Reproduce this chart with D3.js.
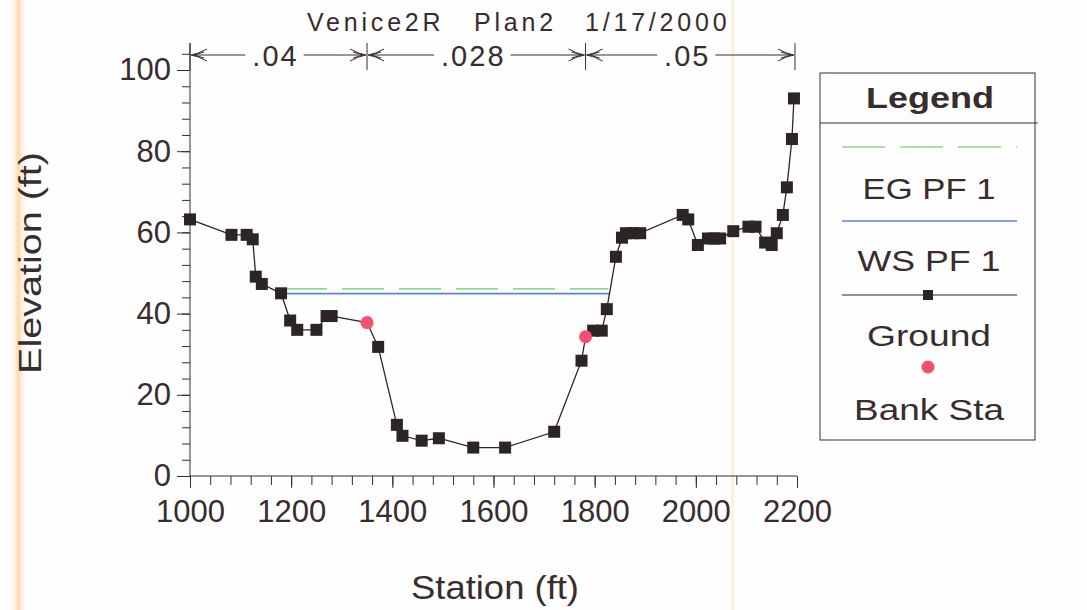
<!DOCTYPE html>
<html>
<head>
<meta charset="utf-8">
<script src="https://cdn.jsdelivr.net/npm/d3@7"></script>
<style>
  html, body { margin: 0; padding: 0; background: #fefefe; }
  svg { display: block; font-family: "Liberation Sans", Arial, sans-serif; }
</style>
</head>
<body>
<svg id="chart" width="1087" height="610"></svg>
<script>
// Cross-section: ground profile (station / elevation)
const groundStation = [1000, 1082, 1112, 1124, 1130, 1142, 1180, 1198, 1212, 1250, 1270, 1280,
  1372, 1409, 1420, 1458, 1492, 1560, 1623, 1720, 1774, 1797, 1814, 1824, 1842, 1854, 1862,
  1876, 1890, 1974, 1985, 2004, 2024, 2036, 2048, 2074, 2104, 2118, 2137, 2150, 2160, 2172,
  2180, 2190, 2194];
const groundElev = [63.2, 59.4, 59.4, 58.3, 49.1, 47.3, 45.0, 38.3, 36.0, 36.0, 39.4, 39.4,
  31.8, 12.6, 9.9, 8.7, 9.3, 7.0, 7.0, 10.9, 28.4, 35.8, 35.8, 41.1, 54.0, 58.7, 59.8,
  59.8, 59.8, 64.3, 63.2, 56.9, 58.5, 58.5, 58.5, 60.3, 61.4, 61.4, 57.5, 56.9, 59.8, 64.3,
  71.1, 83.0, 93.0];

// Bank stations (left / right)
const bankStation = [1350, 1782];
const bankElev = [37.8, 34.3];

// Water surface and energy grade for profile PF 1
const wsElev = 44.9;
const wsExtent = [1180, 1829];
const egElev = 46.1;
const egExtent = [1180, 1827];

// Manning's n regions
const nBounds = [1000, 1350, 1782, 2196];
const nValues = [".04", ".028", ".05"];

// Axes
const xTicks = [1000, 1200, 1400, 1600, 1800, 2000, 2200];
const yTicks = [0, 20, 40, 60, 80, 100];

const legendLabels = ["EG PF 1", "WS PF 1", "Ground", "Bank Sta"];

const ink = "#382c2c";
const colEG = "#8edb82";
const colWS = "#5a84e2";
const colGround = "#2d2424";
const colBank = "#f4506c";

const svg = d3.select("#chart");

// paper tint stripes
const grad = svg.append("defs").append("linearGradient").attr("id", "tint")
  .attr("x1", 0).attr("x2", 1).attr("y1", 0).attr("y2", 0);
grad.append("stop").attr("offset", 0).attr("stop-color", "#fdebd2").attr("stop-opacity", 0.2);
grad.append("stop").attr("offset", 0.5).attr("stop-color", "#fcd9ad").attr("stop-opacity", 1);
grad.append("stop").attr("offset", 1).attr("stop-color", "#fdebd2").attr("stop-opacity", 0.2);
svg.append("rect").attr("x", 12).attr("y", 0).attr("width", 13).attr("height", 610)
  .attr("fill", "url(#tint)");
svg.append("rect").attr("x", 731).attr("y", 0).attr("width", 3).attr("height", 610)
  .attr("fill", "#fdf3d6");

const x = d3.scaleLinear().domain([1000, 2200]).range([190, 797]);
const y = d3.scaleLinear().domain([0, 100]).range([476, 70]);

// Y axis
const yAxisG = svg.append("g").attr("transform", `translate(${x(1000)},0)`);
yAxisG.append("g")
  .call(d3.axisLeft(y).tickValues(d3.range(0, 105, 4)).tickSize(8).tickFormat(""))
  .call(g => g.select(".domain").remove());
yAxisG.append("g")
  .call(d3.axisLeft(y).tickValues(yTicks).tickSize(13).tickPadding(6).tickFormat(d3.format("d")))
  .call(g => g.select(".domain").remove());
yAxisG.selectAll("line").attr("stroke", ink).attr("stroke-width", 1);
yAxisG.selectAll("text").attr("fill", ink).attr("font-size", 31)
  .attr("font-family", "'Liberation Sans', Arial, sans-serif");
svg.append("line").attr("x1", x(1000)).attr("x2", x(1000))
  .attr("y1", 43).attr("y2", y(0)).attr("stroke", ink);

// X axis
const xAxisG = svg.append("g").attr("transform", `translate(0,${y(0)})`);
xAxisG.append("g")
  .call(d3.axisBottom(x).tickValues(d3.range(1000, 2201, 40)).tickSize(9).tickFormat(""))
  .call(g => g.select(".domain").remove());
xAxisG.append("g")
  .call(d3.axisBottom(x).tickValues(xTicks).tickSize(12).tickPadding(12).tickFormat(d3.format("d")))
  .call(g => g.select(".domain").remove());
xAxisG.selectAll("line").attr("stroke", ink).attr("stroke-width", 1);
xAxisG.selectAll("text").attr("fill", ink).attr("font-size", 31)
  .attr("font-family", "'Liberation Sans', Arial, sans-serif");
svg.append("line").attr("x1", x(1000)).attr("x2", x(2200))
  .attr("y1", y(0)).attr("y2", y(0)).attr("stroke", ink);

// Axis titles
svg.append("text").attr("x", 495).attr("y", 599).attr("text-anchor", "middle")
  .attr("font-size", 34).attr("fill", ink)
  .attr("textLength", 168).attr("lengthAdjust", "spacingAndGlyphs").text("Station (ft)");
svg.append("text").attr("transform", "translate(41,263) rotate(-90)").attr("text-anchor", "middle")
  .attr("font-size", 31).attr("fill", ink)
  .attr("textLength", 222).attr("lengthAdjust", "spacingAndGlyphs").text("Elevation (ft)");

// Title
const titleParts = [["Venice2R", 307], ["Plan2", 474], ["1/17/2000", 585]];
svg.selectAll("text.title").data(titleParts).join("text")
  .attr("class", "title").attr("x", d => d[1]).attr("y", 31)
  .attr("font-size", 25).attr("letter-spacing", 3.8).attr("fill", ink)
  .text(d => d[0]);

// Manning's n annotation
const nY = 55;
const ann = svg.append("g").attr("stroke", ink).attr("fill", "none").attr("stroke-width", 1);
nBounds.forEach(b => {
  ann.append("line").attr("x1", x(b)).attr("x2", x(b)).attr("y1", 43).attr("y2", 70);
});
function arrowHead(tip, dir) {
  // dir = -1 : head pointing left (tip on left), +1 : pointing right
  const L = 16, h = 6;
  const bx = tip - dir * L;
  ann.append("path").attr("d",
    `M${bx},${nY - h} Q${tip - dir * 7},${nY - 1} ${tip},${nY} Q${tip - dir * 7},${nY + 1} ${bx},${nY + h}`);
  ann.append("path").attr("d",
    `M${bx + dir * 3},${nY - 3} L${tip - dir * 3},${nY} L${bx + dir * 3},${nY + 3}`);
}
nValues.forEach((v, i) => {
  const a = x(nBounds[i]), b = x(nBounds[i + 1]);
  const mid = (a + b) / 2 - 3;
  const t = svg.append("text").attr("x", mid).attr("y", nY + 11).attr("text-anchor", "middle")
    .attr("font-size", 29).attr("letter-spacing", 2).attr("fill", ink).text(v);
  const w = t.node().getComputedTextLength();
  ann.append("line").attr("x1", a + 2).attr("x2", mid - w / 2 - 7).attr("y1", nY).attr("y2", nY);
  ann.append("line").attr("x1", mid + w / 2 + 5).attr("x2", b - 2).attr("y1", nY).attr("y2", nY);
  arrowHead(a + 1, -1);
  arrowHead(b - 1, 1);
});

// EG and WS lines
svg.append("line").attr("x1", x(egExtent[0]) + 4).attr("x2", x(egExtent[1]))
  .attr("y1", y(egElev)).attr("y2", y(egElev))
  .attr("stroke", colEG).attr("stroke-width", 1.6).attr("stroke-dasharray", "42,15");
svg.append("line").attr("x1", x(wsExtent[0])).attr("x2", x(wsExtent[1]))
  .attr("y1", y(wsElev)).attr("y2", y(wsElev))
  .attr("stroke", colWS).attr("stroke-width", 1.8);

// Ground profile (bank stations are vertices of the ground line)
const profile = groundStation.map((s, i) => [s, groundElev[i]])
  .concat(bankStation.map((s, i) => [s, bankElev[i]]))
  .sort((a, b) => a[0] - b[0]);
svg.append("path").datum(profile)
  .attr("d", d3.line().x(d => x(d[0])).y(d => y(d[1])))
  .attr("fill", "none").attr("stroke", colGround).attr("stroke-width", 1.3);

const sq = 12;
svg.selectAll("rect.gpt").data(groundStation).join("rect")
  .attr("class", "gpt")
  .attr("x", (d) => x(d) - sq / 2)
  .attr("y", (d, i) => y(groundElev[i]) - sq / 2)
  .attr("width", sq).attr("height", sq)
  .attr("fill", colGround);

svg.selectAll("circle.bank").data(bankStation).join("circle")
  .attr("class", "bank")
  .attr("cx", d => x(d)).attr("cy", (d, i) => y(bankElev[i])).attr("r", 6.5)
  .attr("fill", colBank);

// Legend
const lg = svg.append("g");
lg.append("rect").attr("x", 820).attr("y", 73).attr("width", 215).attr("height", 367)
  .attr("fill", "none").attr("stroke", ink).attr("stroke-width", 1);
lg.append("line").attr("x1", 820).attr("x2", 1038).attr("y1", 123).attr("y2", 123)
  .attr("stroke", ink).attr("stroke-width", 1);
lg.append("text").attr("x", 930).attr("y", 108).attr("text-anchor", "middle")
  .attr("font-size", 30).attr("font-weight", "bold").attr("fill", ink)
  .attr("textLength", 128).attr("lengthAdjust", "spacingAndGlyphs").text("Legend");

const lgLabelY = [199, 271, 346, 420];
const lgSymY = [147, 221, 295, 367];
const lgLabelW = [133, 143, 124, 150];
lg.append("line").attr("x1", 842).attr("x2", 1017).attr("y1", lgSymY[0]).attr("y2", lgSymY[0])
  .attr("stroke", colEG).attr("stroke-width", 1.4).attr("stroke-dasharray", "43,15");
lg.append("line").attr("x1", 842).attr("x2", 1017).attr("y1", lgSymY[1]).attr("y2", lgSymY[1])
  .attr("stroke", colWS).attr("stroke-width", 1.6);
lg.append("line").attr("x1", 842).attr("x2", 1017).attr("y1", lgSymY[2]).attr("y2", lgSymY[2])
  .attr("stroke", colGround).attr("stroke-width", 1.1);
lg.append("rect").attr("x", 928 - 5).attr("y", lgSymY[2] - 5).attr("width", 10).attr("height", 10)
  .attr("fill", colGround);
lg.append("circle").attr("cx", 928).attr("cy", lgSymY[3]).attr("r", 6.5).attr("fill", colBank);
lg.selectAll("text.lbl").data(legendLabels).join("text")
  .attr("class", "lbl").attr("x", 929).attr("y", (d, i) => lgLabelY[i])
  .attr("text-anchor", "middle").attr("font-size", 29).attr("fill", ink)
  .attr("textLength", (d, i) => lgLabelW[i]).attr("lengthAdjust", "spacingAndGlyphs")
  .text(d => d);
</script>
</body>
</html>
